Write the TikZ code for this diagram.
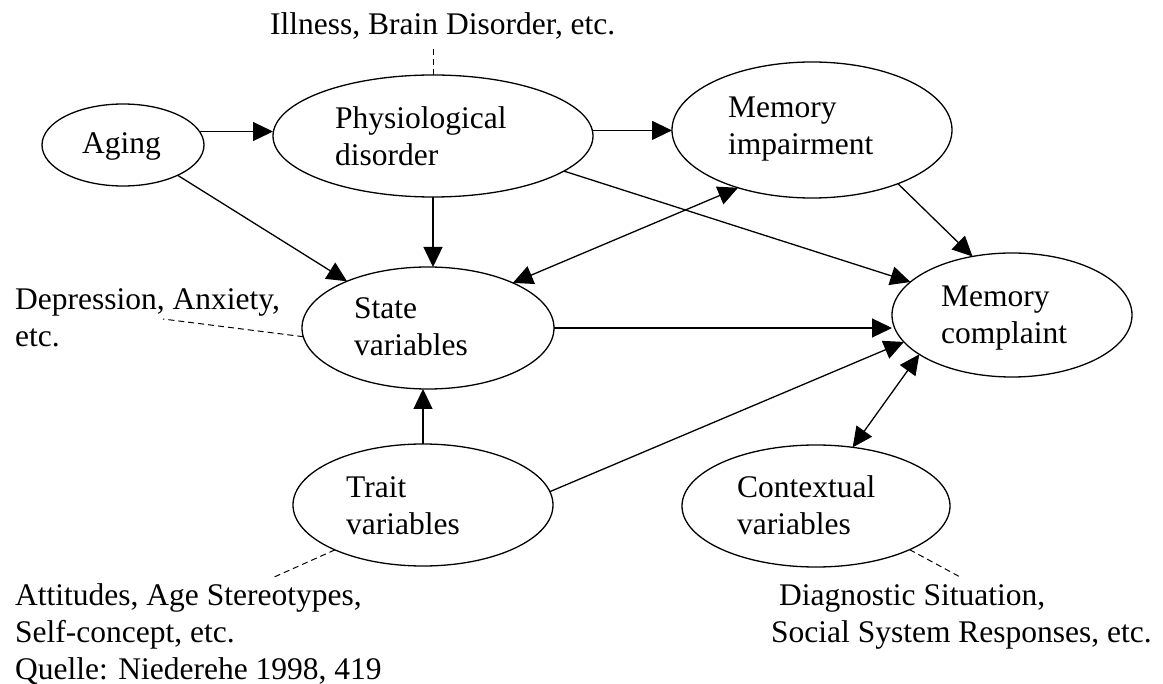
\documentclass[tikz,border=0pt]{standalone}
\usepackage{fontspec}
\setmainfont{Liberation Serif}
\usetikzlibrary{shapes.geometric,arrows.meta}
\tikzset{myellipse/.style={draw,ellipse,line width=1.3pt,inner sep=0pt,outer sep=0pt},
mylabel/.style={anchor=base west,align=left,inner sep=0pt,font=\fontsize{31.5}{37}\selectfont},
myarrow/.style={line width=1.3pt,-{Triangle[length=20pt,width=19pt]}},
mydoublearrow/.style={line width=1.3pt,{Triangle[length=20pt,width=19pt]}-{Triangle[length=20pt,width=19pt]}},
mydash/.style={line width=1pt,dash pattern=on 6pt off 4pt}}

\begin{document}
\begin{tikzpicture}[x=1pt,y=-1pt]
\useasboundingbox (0,0) rectangle (1163,684);
% ellipses
\node[myellipse,minimum width=162pt,minimum height=82pt] (aging) at (123,145) {};
\node[myellipse,minimum width=320pt,minimum height=122pt] (phys) at (433,136) {};
\node[myellipse,minimum width=280pt,minimum height=136pt] (memimp) at (812,130) {};
\node[myellipse,minimum width=252pt,minimum height=122pt] (state) at (428,328) {};
\node[myellipse,minimum width=240pt,minimum height=124pt] (complaint) at (1012,315) {};
\node[myellipse,minimum width=260pt,minimum height=122pt] (trait) at (423,505) {};
\node[myellipse,minimum width=268pt,minimum height=122pt] (context) at (816,506) {};
% texts in the ellipses (base = last line)
\node[mylabel] (aginglabel) at (82,154) {Aging};
\node[mylabel] (physlabel) at (335,166) {Physiological\\disorder};
\node[mylabel] (memimplabel) at (728,155) {Memory\\impairment};
\node[mylabel] (statelabel) at (354,356) {State\\variables};
\node[mylabel] (complaintlabel) at (941,344) {Memory\\complaint};
\node[mylabel] (traitlabel) at (346,535) {Trait\\variables};
\node[mylabel] (contextlabel) at (737,535) {Contextual\\variables};
% outside texts
\node[mylabel] (illnesslabel) at (270,35) {Illness, Brain Disorder, etc.};
\node[mylabel] (depressionlabel) at (15,347) {Depression, Anxiety,\\etc.};
\node[mylabel] (attitudeslabel) at (15,679) {Attitudes, Age Stereotypes,\\Self-concept, etc.\\Quelle: Niederehe 1998, 419};
\node[mylabel] (diagnosticlabel) at (771,642) {\hspace*{8pt}Diagnostic Situation,\\Social System Responses, etc.};
% arrows
\draw[myarrow] (aging.10) -- (aging.10 -| phys.west);
\draw[myarrow] (phys.2) -- (phys.2 -| memimp.west);
\draw[myarrow] (aging.-29) -- (state.150);
\draw[myarrow] (phys.south) -- (phys.south |- state.north);
\draw[mydoublearrow] (memimp.218) -- (state.28);
\draw[myarrow] (phys.-15) -- (complaint.162);
\draw[myarrow] (memimp.-32) -- (complaint.124);
\draw[myarrow] (state.east) -- (state.east -| complaint.west);
\draw[myarrow] (trait.north) -- (trait.north |- state.south);
\draw[myarrow] (trait.6) -- (complaint.194);
\draw[mydoublearrow] (complaint.203) -- (context.58);
% dashed links to the outside texts
\coordinate (illnessend) at (433,47);
\coordinate (depressionend) at (163,319);
\coordinate (attitudesend) at (272,578);
\coordinate (diagnosticend) at (962,578);
\draw[mydash] (phys.north) -- (illnessend);
\draw[mydash] (state.184) -- (depressionend);
\draw[mydash] (trait.207) -- (attitudesend);
\draw[mydash] (context.-25) -- (diagnosticend);
\end{tikzpicture}
\end{document}
